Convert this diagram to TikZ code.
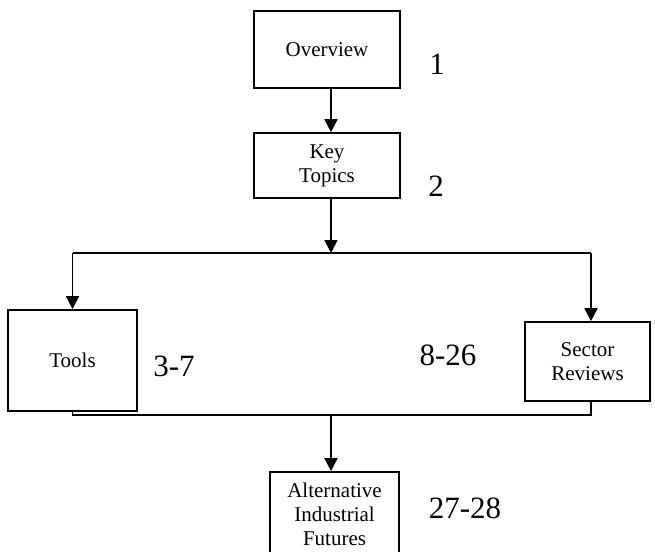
\documentclass[tikz,border=0pt]{standalone}
\usepackage{fontspec}
\setmainfont{Liberation Serif}
\usepackage{tikz}
\usetikzlibrary{arrows.meta,positioning,calc}

\begin{document}
\begin{tikzpicture}[x=1pt, y=-1pt,
  box/.style={draw, line width=1.7pt, align=center, font=\fontsize{21}{24}\selectfont, inner sep=0pt},
  arr/.style={-{Triangle[length=13pt,width=13pt]}, line width=1.7pt},
  ln/.style={line width=1.7pt},
  num/.style={font=\fontsize{31}{31}\selectfont, inner sep=0pt}]
  \useasboundingbox (0,0) rectangle (655,551);
  \node[box, minimum width=146pt, minimum height=77pt] (ov) at (327,49.5) {Overview};
  \node[box, minimum width=146pt, minimum height=65pt] (kt) at (327,165.5) {Key\\Topics};
  \node[box, minimum width=129pt, minimum height=101pt] (tools) at (72.5,360.5) {Tools};
  \node[box, minimum width=125pt, minimum height=79pt] (sect) at (587.5,361.5) {Sector\\Reviews};
  \node[box, minimum width=129pt, minimum height=84pt] (alt) at (334.5,514) {Alternative\\Industrial\\Futures};
  \node[num] (n1) at (437,64) {1};
  \node[num] (n2) at (436,186) {2};
  \node[num] (n3) at (174,366) {3-7};
  \node[num] (n4) at (448,355) {8-26};
  \node[num] (n5) at (465,508) {27-28};
  \coordinate (split) at (331,253);
  \coordinate (join) at (331,415);
  \draw[arr] ([xshift=4pt]ov.south) -- ([xshift=4pt]kt.north);
  \draw[arr] ([xshift=4pt]kt.south) -- (split);
  \draw[ln] (tools.north |- split) -- ([xshift=3.5pt]sect.north |- split);
  \draw[arr] (tools.north |- split) -- (tools.north);
  \draw[arr] ([xshift=3.5pt]sect.north |- split) -- ([xshift=3.5pt]sect.north);
  \draw[ln] (tools.south) -- (tools.south |- join) -- ([xshift=3.5pt]sect.south |- join) -- ([xshift=3.5pt]sect.south);
  \draw[arr] (join) -- (join |- alt.north);
\end{tikzpicture}
\end{document}
